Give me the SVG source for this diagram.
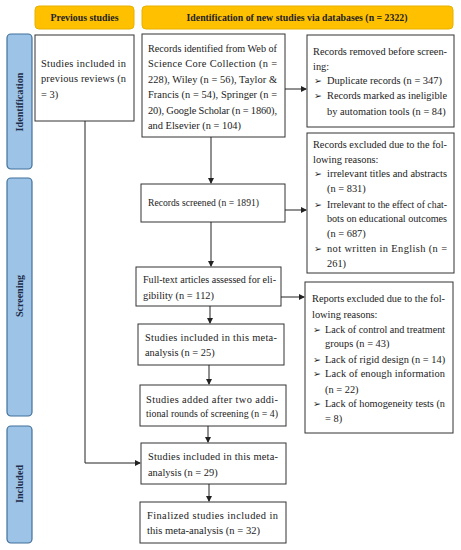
<svg xmlns="http://www.w3.org/2000/svg" width="461" height="550" viewBox="0 0 461 550">
<style>
.hdr{fill:#FFC000;stroke:#E8B000;stroke-width:1}
.side{fill:#9DC3E6;stroke:#41719C;stroke-width:1.2}
.box{fill:#fff;stroke:#333;stroke-width:1}
.t{font-family:"Liberation Serif","Times New Roman",serif;font-size:10.4px;fill:#222}
.b{font-family:"Liberation Serif","Times New Roman",serif;font-size:10.5px;font-weight:bold;fill:#222}
.sl{font-family:"Liberation Serif","Times New Roman",serif;font-size:10.5px;font-weight:bold;fill:#1F2D4A}
.bl{font-family:"DejaVu Sans",sans-serif;font-size:9.5px;fill:#222}
.c{fill:none;stroke:#222;stroke-width:1}
</style>
<defs>
<marker id="ah" markerWidth="6" markerHeight="6" refX="5" refY="3" orient="auto" markerUnits="userSpaceOnUse">
<path d="M0,0 L6,3 L0,6 z" fill="#222"/>
</marker>
</defs>
<rect width="461" height="550" fill="#fff"/>

<g id="hdr-previous">
<rect class="hdr" x="35" y="6" width="99" height="23" rx="4"/>
<text class="b" x="84.5" y="21" text-anchor="middle" textLength="68" lengthAdjust="spacingAndGlyphs">Previous studies</text>
</g>
<g id="hdr-identification">
<rect class="hdr" x="142" y="6" width="311" height="23" rx="4"/>
<text class="b" x="297" y="21" text-anchor="middle" textLength="221" lengthAdjust="spacingAndGlyphs">Identification of new studies via databases (n = 2322)</text>
</g>

<g id="side-identification">
<rect class="side" x="7" y="34" width="25" height="135" rx="4"/>
<text class="sl" transform="translate(23,102) rotate(-90)" text-anchor="middle" textLength="59" lengthAdjust="spacingAndGlyphs">Identification</text>
</g>
<g id="side-screening">
<rect class="side" x="7" y="178" width="25" height="238" rx="4"/>
<text class="sl" transform="translate(23,296) rotate(-90)" text-anchor="middle" textLength="42" lengthAdjust="spacingAndGlyphs">Screening</text>
</g>
<g id="side-included">
<rect class="side" x="7" y="426" width="25" height="117" rx="4"/>
<text class="sl" transform="translate(23,484) rotate(-90)" text-anchor="middle" textLength="38" lengthAdjust="spacingAndGlyphs">Included</text>
</g>

<g id="previous-reviews">
<rect class="box" x="35" y="35" width="99" height="86"/>
<text class="t" x="41" y="67" textLength="85" lengthAdjust="spacing">Studies included in</text>
<text class="t" x="41" y="82" textLength="85" lengthAdjust="spacing">previous reviews (n</text>
<text class="t" x="41" y="97.5">= 3)</text>
</g>

<g id="records-identified">
<rect class="box" x="142" y="34" width="143" height="103"/>
<text class="t" x="148" y="52" textLength="129" lengthAdjust="spacingAndGlyphs">Records identified from Web of</text>
<text class="t" x="148" y="67" textLength="129" lengthAdjust="spacing">Science Core Collection (n =</text>
<text class="t" x="148" y="82.5" textLength="129" lengthAdjust="spacing">228), Wiley (n = 56), Taylor &amp;</text>
<text class="t" x="148" y="98" textLength="129" lengthAdjust="spacing">Francis (n = 54), Springer (n =</text>
<text class="t" x="148" y="113.5" textLength="129" lengthAdjust="spacing">20), Google Scholar (n = 1860),</text>
<text class="t" x="148" y="128.5">and Elsevier (n = 104)</text>
</g>

<g id="records-removed">
<rect class="box" x="307" y="35" width="147" height="92"/>
<text class="t" x="313" y="55" textLength="134" lengthAdjust="spacingAndGlyphs">Records removed before screen-</text>
<text class="t" x="313" y="69.5">ing:</text>
<text class="bl" x="314" y="84">➢</text>
<text class="t" x="327" y="84">Duplicate records (n = 347)</text>
<text class="bl" x="314" y="99">➢</text>
<text class="t" x="327" y="99" textLength="120" lengthAdjust="spacingAndGlyphs">Records marked as ineligible</text>
<text class="t" x="327" y="114.5">by automation tools (n = 84)</text>
</g>

<g id="records-excluded">
<rect class="box" x="307" y="133" width="147" height="140"/>
<text class="t" x="313" y="147.5" textLength="134" lengthAdjust="spacingAndGlyphs">Records excluded due to the fol-</text>
<text class="t" x="313" y="162.5">lowing reasons:</text>
<text class="bl" x="314" y="177">➢</text>
<text class="t" x="327" y="177" textLength="120" lengthAdjust="spacingAndGlyphs">irrelevant titles and abstracts</text>
<text class="t" x="327" y="192">(n = 831)</text>
<text class="bl" x="314" y="207.5">➢</text>
<text class="t" x="327" y="207.5" textLength="120" lengthAdjust="spacingAndGlyphs">Irrelevant to the effect of chat-</text>
<text class="t" x="327" y="222" textLength="120" lengthAdjust="spacingAndGlyphs">bots on educational outcomes</text>
<text class="t" x="327" y="237">(n = 687)</text>
<text class="bl" x="314" y="252">➢</text>
<text class="t" x="327" y="252" textLength="120" lengthAdjust="spacing">not written in English (n =</text>
<text class="t" x="327" y="267">261)</text>
</g>

<g id="records-screened">
<rect class="box" x="141" y="184" width="144" height="38"/>
<text class="t" x="148" y="206" textLength="111" lengthAdjust="spacingAndGlyphs">Records screened (n = 1891)</text>
</g>

<g id="full-text">
<rect class="box" x="136" y="267" width="145" height="39"/>
<text class="t" x="143" y="283" textLength="133" lengthAdjust="spacingAndGlyphs">Full-text articles assessed for eli-</text>
<text class="t" x="143" y="298.5">gibility (n = 112)</text>
</g>

<g id="reports-excluded">
<rect class="box" x="305" y="282" width="148" height="151"/>
<text class="t" x="312" y="302" textLength="133" lengthAdjust="spacingAndGlyphs">Reports excluded due to the fol-</text>
<text class="t" x="312" y="318">lowing reasons:</text>
<text class="bl" x="313" y="332.5">➢</text>
<text class="t" x="325" y="332.5" textLength="120" lengthAdjust="spacingAndGlyphs">Lack of control and treatment</text>
<text class="t" x="325" y="347">groups (n = 43)</text>
<text class="bl" x="313" y="362.5">➢</text>
<text class="t" x="325" y="362.5">Lack of rigid design (n = 14)</text>
<text class="bl" x="313" y="377">➢</text>
<text class="t" x="325" y="377" textLength="120" lengthAdjust="spacing">Lack of enough information</text>
<text class="t" x="325" y="392.5">(n = 22)</text>
<text class="bl" x="313" y="407">➢</text>
<text class="t" x="325" y="407" textLength="120" lengthAdjust="spacingAndGlyphs">Lack of homogeneity tests (n</text>
<text class="t" x="325" y="422">= 8)</text>
</g>

<g id="studies-included-25">
<rect class="box" x="138" y="324" width="146" height="41"/>
<text class="t" x="145" y="341" textLength="132" lengthAdjust="spacing">Studies included in this meta-</text>
<text class="t" x="145" y="356">analysis (n = 25)</text>
</g>

<g id="studies-added">
<rect class="box" x="140" y="385" width="146" height="41"/>
<text class="t" x="146" y="402.5" textLength="132" lengthAdjust="spacing">Studies added after two addi-</text>
<text class="t" x="146" y="417" textLength="132" lengthAdjust="spacingAndGlyphs">tional rounds of screening (n = 4)</text>
</g>

<g id="studies-included-29">
<rect class="box" x="141" y="443" width="145" height="41"/>
<text class="t" x="148" y="460" textLength="130" lengthAdjust="spacing">Studies included in this meta-</text>
<text class="t" x="148" y="475.5">analysis (n = 29)</text>
</g>

<g id="finalized">
<rect class="box" x="140" y="502" width="146" height="41"/>
<text class="t" x="147" y="518.5" textLength="131" lengthAdjust="spacing">Finalized studies included in</text>
<text class="t" x="147" y="533.5" textLength="113" lengthAdjust="spacingAndGlyphs">this meta-analysis (n = 32)</text>
</g>

<g id="connectors">
<path class="c" d="M285,89 H306" marker-end="url(#ah)"/>
<path class="c" d="M285,210 H306" marker-end="url(#ah)"/>
<path class="c" d="M281,297 H304" marker-end="url(#ah)"/>
<path class="c" d="M211,137 V183" marker-end="url(#ah)"/>
<path class="c" d="M211,222 V266" marker-end="url(#ah)"/>
<path class="c" d="M210,306 V323" marker-end="url(#ah)"/>
<path class="c" d="M209,365 V384" marker-end="url(#ah)"/>
<path class="c" d="M208,426 V442" marker-end="url(#ah)"/>
<path class="c" d="M209,484 V501" marker-end="url(#ah)"/>
<path class="c" d="M85,121 V463 H140" marker-end="url(#ah)"/>
</g>
</svg>
